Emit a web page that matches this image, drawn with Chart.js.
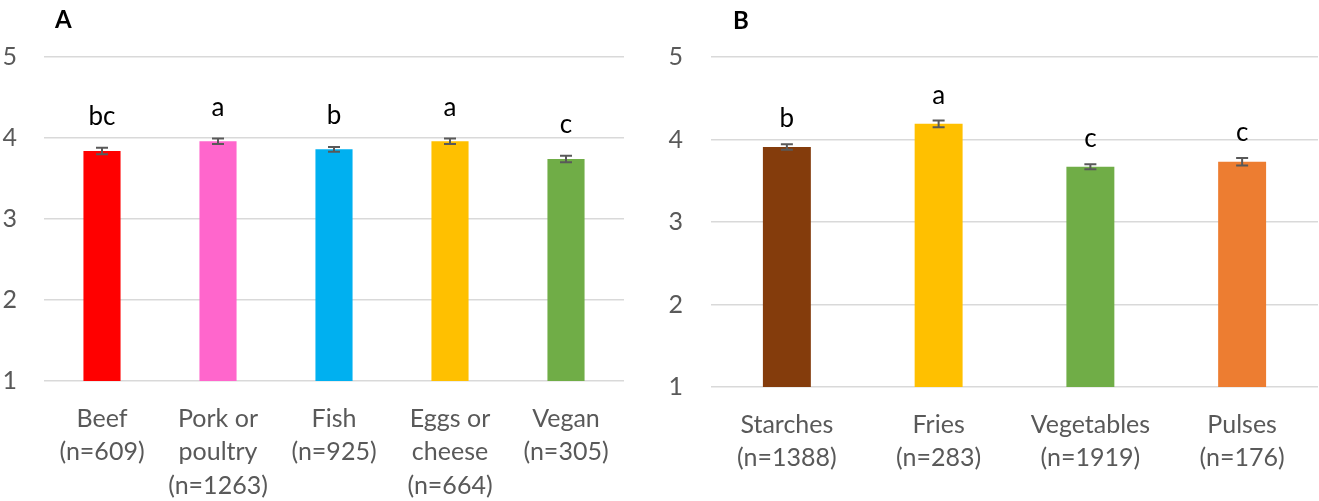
<!DOCTYPE html>
<html>
<head>
<meta charset="utf-8">
<script src="https://cdn.jsdelivr.net/npm/chart.js@4.4.1/dist/chart.umd.min.js"></script>
<style>
  body { margin: 0; background: #fff; width: 1319px; height: 501px; position: relative; overflow: hidden; }
  .panel { position: absolute; top: 0; }
  .tag { position: absolute; font: bold 24px Lato, sans-serif; color: #000; }
</style>
</head>
<body>
<div class="panel" style="left:0"><canvas id="chartA" width="660" height="501"></canvas></div>
<div class="panel" style="left:660px"><canvas id="chartB" width="659" height="501"></canvas></div>
<div class="tag" style="left:55px; top:4px">A</div>
<div class="tag" style="left:733px; top:5px">B</div>
<script>
// panel A : main dish
const labelsA = [['Beef'], ['Pork or', 'poultry'], ['Fish'], ['Eggs or', 'cheese'], ['Vegan']];
const countsA = [609, 1263, 925, 664, 305];
const meansA = [3.84, 3.96, 3.86, 3.96, 3.74];
const errorsA = [0.04, 0.033, 0.03, 0.033, 0.04];
const lettersA = ['bc', 'a', 'b', 'a', 'c'];
const colorsA = ['#FF0000', '#FF66CC', '#00B0F0', '#FFC000', '#70AD47'];

// panel B : side dish
const labelsB = [['Starches'], ['Fries'], ['Vegetables'], ['Pulses']];
const countsB = [1388, 283, 1919, 176];
const meansB = [3.91, 4.19, 3.67, 3.73];
const errorsB = [0.033, 0.04, 0.03, 0.045];
const lettersB = ['b', 'a', 'c', 'c'];
const colorsB = ['#843C0C', '#FFC000', '#70AD47', '#ED7D31'];

const yTicks = [1, 2, 3, 4, 5];

Chart.defaults.font.family = 'Lato, sans-serif';

// error bars + significance letters
const errorBars = {
    id: 'errorBars',
    afterDatasetsDraw(chart, args, opts) {
        const ctx = chart.ctx;
        const y = chart.scales.y;
        const meta = chart.getDatasetMeta(0);
        ctx.save();
        meta.data.forEach((bar, i) => {
            const m = opts.means[i], e = opts.errors[i];
            const top = y.getPixelForValue(m + e);
            const bot = y.getPixelForValue(m - e);
            ctx.strokeStyle = '#595959';
            ctx.lineWidth = 2;
            ctx.beginPath();
            ctx.moveTo(bar.x, top); ctx.lineTo(bar.x, bot);
            ctx.moveTo(bar.x - 6, top); ctx.lineTo(bar.x + 6, top);
            ctx.moveTo(bar.x - 6, bot); ctx.lineTo(bar.x + 6, bot);
            ctx.stroke();

            ctx.fillStyle = '#000';
            ctx.font = '26px Lato, sans-serif';
            ctx.textAlign = 'center';
            ctx.textBaseline = 'alphabetic';
            ctx.fillText(opts.letters[i], bar.x, top - opts.gap);
        });
        ctx.restore();
    }
};

function makeChart(id, names, counts, means, errors, letters, colors, box) {
    const labels = names.map((lines, i) => [...lines, '(n=' + counts[i] + ')']);
    return new Chart(document.getElementById(id), {
        type: 'bar',
        data: {
            labels: labels,
            datasets: [{
                data: means,
                backgroundColor: colors,
                barPercentage: box.barPct,
                categoryPercentage: 1
            }]
        },
        options: {
            responsive: false,
            animation: false,
            layout: { padding: { left: 0, right: box.right, top: box.top, bottom: 0 } },
            plugins: {
                legend: { display: false },
                tooltip: { enabled: false },
                errorBars: { means: means, errors: errors, letters: letters, gap: box.gap }
            },
            scales: {
                x: {
                    grid: { display: false },
                    border: { display: false },
                    ticks: {
                        color: '#595959',
                        font: { size: 25, lineHeight: 1.335 },
                        padding: 13,
                        maxRotation: 0,
                        autoSkip: false
                    },
                    afterFit(scale) { scale.height = box.xHeight; }
                },
                y: {
                    min: 1,
                    max: 5,
                    afterBuildTicks(scale) { scale.ticks = yTicks.map(v => ({ value: v })); },
                    grid: { color: '#D9D9D9', lineWidth: 1.5, drawTicks: false },
                    border: { display: false },
                    ticks: {
                        color: '#595959',
                        font: { size: 25 },
                        padding: box.tickPad
                    },
                    afterFit(scale) { scale.width = box.yWidth; }
                }
            }
        },
        plugins: [errorBars]
    });
}

makeChart('chartA', labelsA, countsA, meansA, errorsA, lettersA, colorsA,
    { barPct: 0.32, right: 36, top: 57, xHeight: 120, yWidth: 44, tickPad: 27, gap: 23 });
makeChart('chartB', labelsB, countsB, meansB, errorsB, lettersB, colorsB,
    { barPct: 0.316, right: 1, top: 57, xHeight: 114, yWidth: 51, tickPad: 28, gap: 17 });
</script>
</body>
</html>
